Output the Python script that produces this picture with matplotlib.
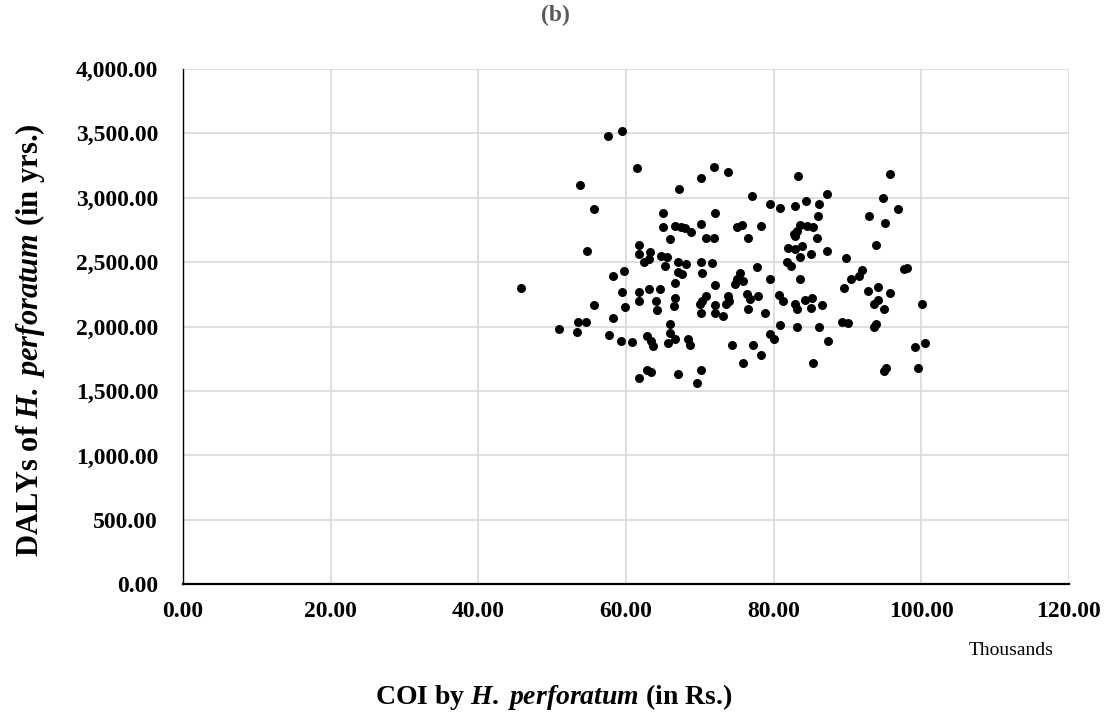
import matplotlib
matplotlib.use("Agg")
import matplotlib.pyplot as plt
from matplotlib.ticker import FuncFormatter

plt.rcParams['font.family'] = ['Liberation Serif', 'DejaVu Serif']
plt.rcParams['mathtext.fontset'] = 'custom'
plt.rcParams['mathtext.rm'] = 'Liberation Serif:bold'
plt.rcParams['mathtext.bfit'] = 'Liberation Serif:italic:bold'

# COI in thousands of Rs. and DALYs in years
coi = [45.8, 50.9, 53.4, 53.5, 53.8, 54.6, 54.7, 55.6, 55.6, 57.5, 57.7, 58.2, 58.3, 59.3,
       59.5, 59.5, 59.7, 59.8, 60.8,
       61.5, 71.9, 73.8, 70.1, 67.2, 77.0, 79.5, 65.0, 72.1, 65.0, 66.7, 67.4, 68.0, 68.8,
       70.2, 75.0, 75.7, 78.3, 65.9, 70.9, 71.9, 76.5, 61.8, 61.8, 62.4, 63.3, 63.1, 64.7,
       65.6, 65.3, 67.0, 68.1, 70.2, 71.6, 70.3, 67.1, 67.6, 66.7, 72.0, 77.8, 75.4, 79.5,
       75.0, 74.8, 75.9, 61.8, 61.7, 63.1, 64.6, 64.1, 64.2, 66.7, 66.5, 70.8, 70.3, 70.0,
       72.0, 72.1, 70.2, 73.2, 73.8, 73.9, 73.5, 76.4, 76.8, 77.9, 76.5, 78.8, 65.9, 65.9,
       65.7, 66.7, 62.9, 63.4, 63.6, 68.4, 68.6, 74.3, 77.2, 78.3, 75.9, 79.5, 80.0, 62.9,
       63.4, 61.8, 67.0, 70.2, 69.6,
       83.3, 95.8, 87.2, 84.4, 86.1, 80.8, 82.9, 94.8, 96.8, 86.0, 92.9, 95.1, 83.6, 84.5,
       85.3, 83.1, 82.8, 82.9, 85.9, 93.8, 82.0, 82.9, 83.8, 83.6, 85.1, 87.2, 81.8, 82.3,
       89.8, 83.6, 92.0, 91.5, 90.5, 97.6, 98.0, 89.5, 92.8, 94.2, 95.7, 80.7, 81.3, 82.9,
       83.1, 84.3, 85.2, 85.0, 86.5, 94.2, 93.6, 94.9, 89.2, 90.1, 80.9, 83.2, 86.1, 93.9,
       93.6, 87.4, 85.3, 95.2, 95.0,
       100.1, 100.5, 99.2, 99.5]
dalys = [2303, 1980, 1959, 2039, 3101, 2037, 2588, 2915, 2171, 3482, 1938, 2070, 2391, 1886,
         3516, 2265, 2428, 2153, 1884,
         3231, 3241, 3202, 3150, 3070, 3013, 2954, 2881, 2884, 2772, 2783, 2775, 2764, 2731,
         2796, 2770, 2788, 2777, 2679, 2687, 2687, 2684, 2632, 2562, 2498, 2575, 2524, 2550,
         2537, 2467, 2503, 2485, 2498, 2490, 2415, 2425, 2407, 2342, 2324, 2459, 2412, 2368,
         2368, 2329, 2350, 2272, 2200, 2293, 2290, 2197, 2130, 2218, 2156, 2239, 2200, 2179,
         2169, 2109, 2104, 2083, 2239, 2200, 2174, 2252, 2213, 2239, 2135, 2104, 2019, 1954,
         1876, 1907, 1928, 1889, 1850, 1907, 1855, 1860, 1855, 1783, 1718, 1941, 1907, 1664,
         1648, 1604, 1635, 1664, 1565,
         3168, 3181, 3029, 2977, 2951, 2917, 2933, 2998, 2912, 2855, 2860, 2801, 2788, 2783,
         2770, 2744, 2718, 2700, 2684, 2632, 2606, 2601, 2627, 2537, 2562, 2588, 2498, 2472,
         2529, 2373, 2438, 2394, 2373, 2446, 2451, 2296, 2278, 2311, 2259, 2244, 2200, 2174,
         2135, 2208, 2218, 2148, 2166, 2205, 2174, 2140, 2037, 2026, 2013, 1998, 1998, 2019,
         1993, 1889, 1721, 1682, 1656,
         2179, 1871, 1842, 1682]

fig = plt.figure(figsize=(11.1, 7.17), dpi=100)
ax = fig.add_axes([0.165, 0.185, 0.798, 0.719])

ax.scatter(coi, dalys, s=42, color='black', zorder=3, linewidths=0)

ax.set_xlim(0, 120)
ax.set_ylim(0, 4000)
ax.set_xticks(range(0, 121, 20))
ax.set_yticks(range(0, 4001, 500))
fmt = FuncFormatter(lambda v, p: '{:,.2f}'.format(v))
ax.xaxis.set_major_formatter(fmt)
ax.yaxis.set_major_formatter(fmt)
ax.tick_params(length=0, labelsize=17)
ax.tick_params(axis='y', pad=18)
ax.tick_params(axis='x', pad=12)
for lab in ax.get_xticklabels() + ax.get_yticklabels():
    lab.set_fontweight('bold')

ax.grid(True, color='#d9d9d9', linewidth=1.2)
ax.set_axisbelow(True)
for s in ['top', 'right']:
    ax.spines[s].set_visible(False)
ax.spines['left'].set_color('black')
ax.spines['left'].set_linewidth(1.0)
ax.spines['bottom'].set_color('black')
ax.spines['bottom'].set_linewidth(1.6)

fig.text(0.5, 0.978, '(b)', ha='center', va='center', fontsize=17,
         fontweight='bold', color='#595959')
fig.text(0.027, 0.525, r'DALYs of $\mathbfit{H.\,perforatum}$ (in yrs.)', rotation=90,
         ha='center', va='center', fontsize=22, fontweight='bold')
fig.text(0.499, 0.028, r'COI by $\mathbfit{H.\,perforatum}$ (in Rs.)',
         ha='center', va='center', fontsize=20, fontweight='bold')
fig.text(0.949, 0.093, 'Thousands', ha='right', va='center', fontsize=14)

fig.savefig('out.png', dpi=100)
